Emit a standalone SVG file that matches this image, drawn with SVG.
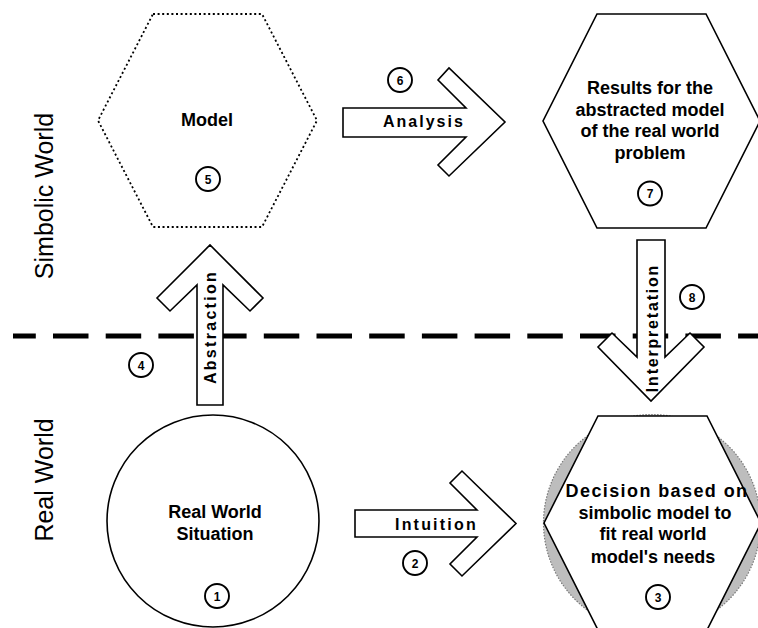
<svg xmlns="http://www.w3.org/2000/svg" width="758" height="628" viewBox="0 0 758 628">
<style>
.shape{fill:#fff;stroke:#000;stroke-width:1.6;stroke-linejoin:miter}
.dotted{fill:none;stroke:#000;stroke-width:1.8;stroke-dasharray:2 2.6}
.lbl{font-family:"Liberation Sans",Arial,sans-serif;font-weight:bold;font-size:18px;fill:#000;text-anchor:middle}
.arr{fill:#fff;stroke:#000;stroke-width:1.6;stroke-linejoin:miter}
.albl{font-family:"Liberation Sans",Arial,sans-serif;font-weight:bold;font-size:16px;fill:#000}
.num circle{fill:#fff;stroke:#000;stroke-width:1.9}
.num text{font-family:"Liberation Sans",Arial,sans-serif;font-weight:bold;font-size:12px;text-anchor:middle;fill:#000}
.side{font-family:"Liberation Sans",Arial,sans-serif;font-size:25px;fill:#000;text-anchor:middle}
</style>
<rect width="758" height="628" fill="#fff"/>
<g id="side-labels">
<text class="side" transform="translate(53,196) rotate(-90)">Simbolic World</text>
<text class="side" transform="translate(53,480) rotate(-90)">Real World</text>
</g>
<g id="divider">
<line x1="13" y1="336" x2="758" y2="336" stroke="#000" stroke-width="5" stroke-dasharray="35.5 17.2" stroke-dashoffset="12.7"/>
</g>
<g id="node-model">
<polygon class="dotted" points="153,14 262,14 317,120.5 262,227 153,227 98,120.5"/>
<text class="lbl" x="207" y="126">Model</text>
<g class="num"><circle cx="208" cy="179" r="12"/><text x="208" y="183.5">5</text></g>
</g>
<g id="node-results">
<polygon class="shape" points="597,14 706,14 760,121 706,228 597,228 543,121"/>
<text class="lbl" x="650" y="94">Results for the</text>
<text class="lbl" x="650" y="115.5">abstracted model</text>
<text class="lbl" x="650" y="137">of the real world</text>
<text class="lbl" x="650" y="158.5">problem</text>
<g class="num"><circle cx="650" cy="193.5" r="12"/><text x="650" y="198">7</text></g>
</g>
<g id="node-situation">
<circle class="shape" cx="213" cy="521" r="106"/>
<text class="lbl" x="215" y="518">Real World</text>
<text class="lbl" x="215" y="540">Situation</text>
<g class="num"><circle cx="217" cy="596" r="12"/><text x="217" y="600.5">1</text></g>
</g>
<g id="node-decision">
<circle cx="652" cy="523" r="108.5" fill="#bdbdbd" stroke="#777" stroke-width="1.2" stroke-dasharray="1.5 1.5"/>
<polygon class="shape" points="598,416 707,416 761,523 707,630 598,630 544,523"/>
<text class="lbl" x="657" y="497" letter-spacing="1.4">Decision based on</text>
<text class="lbl" x="655" y="518.5">simbolic model to</text>
<text class="lbl" x="653" y="540">fit real world</text>
<text class="lbl" x="653" y="563">model's needs</text>
<g class="num"><circle cx="658" cy="597" r="12"/><text x="658" y="601.5">3</text></g>
</g>
<g id="connectors">
<g id="arrow-abstraction">
<polygon class="arr" points="197,405 197,285 170,311 157,298 210,245 263,298 250,311 223,285 223,405"/>
<text class="albl" text-anchor="middle" letter-spacing="2.3" transform="translate(216,327) rotate(-90)">Abstraction</text>
<g class="num"><circle cx="141" cy="365" r="12"/><text x="141" y="369.5">4</text></g>
</g>
<g id="arrow-analysis">
<polygon class="arr" points="343,108 466,108 438,80 449,68 505,122 449,176 438,165 466,137 343,137"/>
<text class="albl" x="383" y="127" letter-spacing="2">Analysis</text>
<g class="num"><circle cx="400" cy="80" r="12"/><text x="400" y="84.5">6</text></g>
</g>
<g id="arrow-interpretation">
<polygon class="arr" points="637,240 665,240 665,357 690,333 704,347 651,401 598,347 612,333 637,357"/>
<text class="albl" text-anchor="middle" letter-spacing="1.8" transform="translate(658,328) rotate(-90)">Interpretation</text>
<g class="num"><circle cx="692" cy="297" r="12"/><text x="692" y="301.5">8</text></g>
</g>
<g id="arrow-intuition">
<polygon class="arr" points="355,510 477,510 450,483 462,471 516,523.5 462,576 450,564 477,537 355,537"/>
<text class="albl" x="395" y="529.5" letter-spacing="2.2">Intuition</text>
<g class="num"><circle cx="415" cy="563" r="12"/><text x="415" y="567.5">2</text></g>
</g>
</g>
</svg>
